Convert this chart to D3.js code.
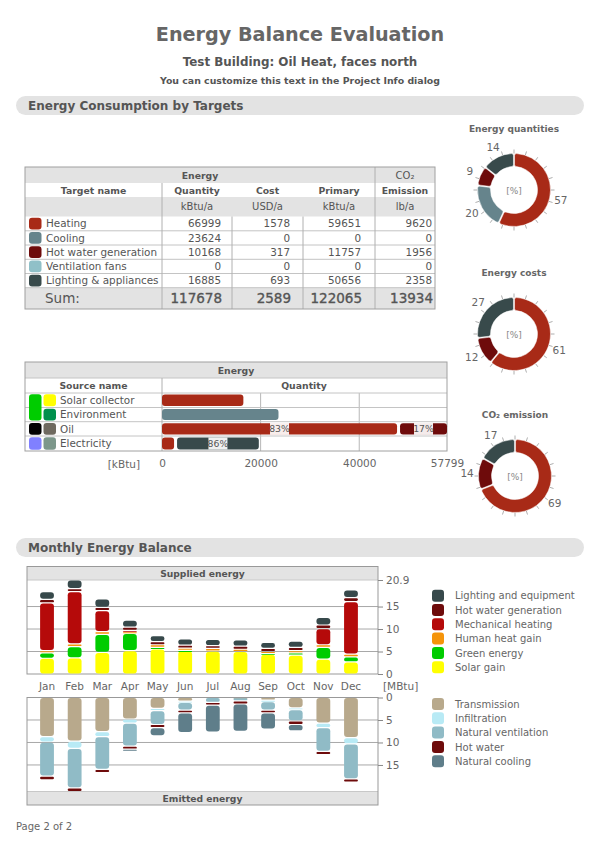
<!DOCTYPE html>
<html>
<head>
<meta charset="utf-8">
<script src="https://cdn.jsdelivr.net/npm/d3@7"></script>
<style>
body { margin: 0; background: #fff; }
svg { display: block; font-family: "DejaVu Sans", sans-serif; }
</style>
</head>
<body>
<svg id="chart" width="600" height="848"></svg>
<script>
// ---- data ----
const targetNames = ["Heating", "Cooling", "Hot water generation", "Ventilation fans", "Lighting & appliances"];
const targetColors = ["#a82a17", "#66848c", "#6e0b0b", "#90c0c8", "#384a4b"];
const quantity = [66999, 23624, 10168, 0, 16885];
const cost = [1578, 0, 317, 0, 693];
const primary = [59651, 0, 11757, 0, 50656];
const emission = [9620, 0, 1956, 0, 2358];
const sums = [117678, 2589, 122065, 13934];
const units = ["kBtu/a", "USD/a", "kBtu/a", "lb/a"];

const sourceNames = ["Solar collector", "Environment", "Oil", "Electricity"];
const sourceHeating = [16500, 0, 47973, 2750];
const sourceCooling = [0, 23624, 0, 0];
const sourceHotWater = [0, 0, 9826, 0];
const sourceLighting = [0, 0, 0, 16885];
const sourceTicks = [0, 20000, 40000, 57799];

const months = ["Jan", "Feb", "Mar", "Apr", "May", "Jun", "Jul", "Aug", "Sep", "Oct", "Nov", "Dec"];
// supplied energy [MBtu], stacked bottom -> top
const solarGain   = [3.5, 3.6, 4.8, 5.2, 5.6, 5.2, 5.1, 5.0, 4.4, 4.2, 3.3, 2.7];
const greenEnergy = [1.2, 2.5, 4.0, 3.8, 0.3, 0.05, 0, 0, 0.2, 0.5, 2.6, 1.1];
const humanHeat   = [0.5, 0.6, 0.6, 0.4, 0.6, 0.5, 0.6, 0.5, 0.4, 0.5, 0.6, 0.6];
const mechHeating = [10.6, 11.6, 4.7, 0.3, 0, 0, 0, 0, 0, 0, 3.6, 11.7];
const hotWaterGen = [0.8, 0.7, 0.7, 0.7, 0.7, 0.65, 0.6, 0.7, 0.7, 0.7, 0.8, 0.9];
const lighting    = [1.7, 1.9, 1.9, 1.6, 1.3, 1.4, 1.4, 1.4, 1.3, 1.4, 1.7, 1.7];
// emitted energy [MBtu], stacked from 0 downwards
const transmission = [8.7, 9.7, 7.6, 4.8, 2.4, 0.8, 0, 0.05, 0.6, 2.3, 5.7, 8.9];
const infiltration = [1.2, 1.6, 1.1, 0.9, 0.5, 0.3, 0, 0, 0.3, 0.4, 1.0, 1.4];
const natVent      = [7.6, 8.8, 7.3, 5.1, 3.1, 1.7, 1.1, 0.7, 1.9, 2.5, 5.3, 7.8];
const hotWater     = [0.8, 0.8, 0.7, 0.7, 0.7, 0.6, 0.6, 0.7, 0.6, 0.8, 0.7, 0.7];
const natCooling   = [0, 0, 0, 0.4, 1.8, 4.4, 6.0, 6.1, 3.6, 1.4, 0, 0];
const monthTicks = [0, 5, 10, 15, 20.9];

const supKeys = ["Solar gain", "Green energy", "Human heat gain", "Mechanical heating", "Hot water generation", "Lighting and equipment"];
const supColors = ["#ffff00", "#00cc00", "#f5940a", "#b50a0a", "#6e0b0b", "#37494b"];
const emKeys = ["Transmission", "Infiltration", "Natural ventilation", "Hot water", "Natural cooling"];
const emColors = ["#b8a98c", "#b8eaf5", "#90bbc6", "#6e0b0b", "#5f7e8a"];

const svg = d3.select("#chart");
const ink = "#555";
const headGray = "#e3e3e3";

// ---- page header ----
svg.append("text").attr("x", 300).attr("y", 41).attr("text-anchor", "middle")
    .attr("font-size", 19.2).attr("font-weight", "bold").attr("fill", "#666")
    .text("Energy Balance Evaluation");
svg.append("text").attr("x", 300).attr("y", 66).attr("text-anchor", "middle")
    .attr("font-size", 11.9).attr("font-weight", "bold").attr("fill", ink)
    .text("Test Building: Oil Heat, faces north");
svg.append("text").attr("x", 300).attr("y", 84).attr("text-anchor", "middle")
    .attr("font-size", 9.4).attr("font-weight", "bold").attr("fill", ink)
    .text("You can customize this text in the Project Info dialog");

function pill(y, label) {
    svg.append("rect").attr("x", 16).attr("y", y).attr("width", 568).attr("height", 19)
        .attr("rx", 9.5).attr("fill", headGray);
    svg.append("text").attr("x", 28).attr("y", y + 14).attr("font-size", 12)
        .attr("font-weight", "bold").attr("fill", ink).text(label);
}
pill(96, "Energy Consumption by Targets");
pill(538, "Monthly Energy Balance");

function label(g, x, y, s, opts) {
    opts = opts || {};
    return g.append("text").attr("x", x).attr("y", y)
        .attr("text-anchor", opts.anchor || "start")
        .attr("font-size", opts.size || 10.4)
        .attr("font-weight", opts.bold ? "bold" : "normal")
        .attr("fill", opts.fill || ink)
        .text(s);
}

// ---- targets table ----
const cx1 = [25, 162, 232, 303, 375, 435];
const ry1 = [167, 183, 197, 216.5, 230.8, 245, 259.3, 273.5, 287.7, 309];
const t1 = svg.append("g");
t1.append("rect").attr("x", 25).attr("y", ry1[0]).attr("width", 410).attr("height", ry1[1] - ry1[0]).attr("fill", headGray);
t1.append("rect").attr("x", 25).attr("y", ry1[2]).attr("width", 410).attr("height", ry1[3] - ry1[2]).attr("fill", headGray);
t1.append("rect").attr("x", 25).attr("y", ry1[8]).attr("width", 410).attr("height", ry1[9] - ry1[8]).attr("fill", headGray);
for (let i = 4; i <= 8; i++) {
    t1.append("line").attr("x1", 25).attr("x2", 435).attr("y1", ry1[i]).attr("y2", ry1[i]).attr("stroke", "#c4c4c4");
}
[[162, ry1[1]], [232, ry1[3]], [303, ry1[3]], [375, ry1[0]]].forEach(([x, y0]) => {
    t1.append("line").attr("x1", x).attr("x2", x).attr("y1", y0).attr("y2", ry1[9]).attr("stroke", "#b0b0b0");
});
t1.append("rect").attr("x", 25).attr("y", ry1[0]).attr("width", 410).attr("height", ry1[9] - ry1[0])
    .attr("fill", "none").attr("stroke", "#a0a0a0");

label(t1, 200, 179, "Energy", { anchor: "middle", bold: true, size: 9.3 });
label(t1, 405, 179, "CO₂", { anchor: "middle", bold: false, size: 10 });
const heads = ["Target name", "Quantity", "Cost", "Primary", "Emission"];
heads.forEach((h, i) => label(t1, (cx1[i] + cx1[i + 1]) / 2, 194, h, { anchor: "middle", bold: true, size: 9.3 }));
units.forEach((u, i) => label(t1, (cx1[i + 1] + cx1[i + 2]) / 2, 210, u, { anchor: "middle", size: 10 }));

const pads = [11, 13, 14, 3];
const cols = [quantity, cost, primary, emission];
targetNames.forEach((name, i) => {
    const y0 = ry1[3 + i], y1 = ry1[4 + i];
    t1.append("rect").attr("x", 29).attr("y", y0 + 1.3).attr("width", 12.5).attr("height", y1 - y0 - 2.6)
        .attr("rx", 3).attr("fill", targetColors[i]);
    const by = (y0 + y1) / 2 + 3.8;
    label(t1, 46, by, name);
    cols.forEach((c, j) => label(t1, cx1[j + 2] - pads[j], by, c[i], { anchor: "end" }));
});
label(t1, 45, 303, "Sum:", { size: 13.5 });
sums.forEach((s, j) => label(t1, cx1[j + 2] - pads[j] + 1, 303, s, { anchor: "end", size: 13.5 })
    .attr("stroke", ink).attr("stroke-width", 0.35));

// ---- sources table ----
const ry2 = [362, 378, 393, 407.5, 421.7, 436, 451];
const t2 = svg.append("g");
const xs = d3.scaleLinear().domain([0, 57799]).range([162, 447]);
t2.append("rect").attr("x", 25).attr("y", ry2[0]).attr("width", 422).attr("height", ry2[1] - ry2[0]).attr("fill", headGray);
[20000, 40000].forEach(v => t2.append("line").attr("x1", xs(v)).attr("x2", xs(v))
    .attr("y1", ry2[2]).attr("y2", ry2[6]).attr("stroke", "#b8b8b8"));
for (let i = 1; i <= 5; i++) {
    t2.append("line").attr("x1", 25).attr("x2", 447).attr("y1", ry2[i]).attr("y2", ry2[i]).attr("stroke", "#c4c4c4");
}
t2.append("line").attr("x1", 162).attr("x2", 162).attr("y1", ry2[1]).attr("y2", ry2[6]).attr("stroke", "#b0b0b0");
t2.append("rect").attr("x", 25).attr("y", ry2[0]).attr("width", 422).attr("height", ry2[6] - ry2[0])
    .attr("fill", "none").attr("stroke", "#a0a0a0");
label(t2, 236, 374, "Energy", { anchor: "middle", bold: true, size: 9.3 });
label(t2, 93.5, 389, "Source name", { anchor: "middle", bold: true, size: 9.3 });
label(t2, 304, 389, "Quantity", { anchor: "middle", bold: true, size: 9.3 });

const leftSw = ["#00cc00", null, "#000000", "#8080ff"];
const rightSw = ["#ffff00", "#00904c", "#6f6a60", "#7c978b"];
sourceNames.forEach((name, i) => {
    const y0 = ry2[2 + i], y1 = ry2[3 + i];
    if (i === 0) {
        t2.append("rect").attr("x", 29).attr("y", y0 + 1.3).attr("width", 12.5).attr("height", ry2[4] - y0 - 2.6)
            .attr("rx", 3).attr("fill", leftSw[0]);
    } else if (leftSw[i]) {
        t2.append("rect").attr("x", 29).attr("y", y0 + 1.3).attr("width", 12.5).attr("height", y1 - y0 - 2.6)
            .attr("rx", 3).attr("fill", leftSw[i]);
    }
    t2.append("rect").attr("x", 43.5).attr("y", y0 + 1.3).attr("width", 12.5).attr("height", y1 - y0 - 2.6)
        .attr("rx", 3).attr("fill", rightSw[i]);
    label(t2, 60, (y0 + y1) / 2 + 3.8, name);

    const parts = [
        { v: sourceHeating[i], c: targetColors[0] },
        { v: sourceCooling[i], c: targetColors[1] },
        { v: sourceHotWater[i], c: targetColors[2] },
        { v: sourceLighting[i], c: targetColors[4] }
    ].filter(p => p.v > 0);
    const total = d3.sum(parts, p => p.v);
    let acc = 0;
    parts.forEach(p => {
        const xa = xs(acc) + (acc > 0 ? 1.5 : 0), xb = xs(acc + p.v) - (acc + p.v < total ? 1.5 : 0);
        t2.append("rect").attr("x", xa).attr("y", y0 + 1.6).attr("width", xb - xa).attr("height", y1 - y0 - 3.2)
            .attr("rx", 3).attr("fill", p.c);
        if (parts.length > 1 && xb - xa > 30) {
            const pct = Math.round(p.v / total * 100) + "%";
            const mx = (xa + xb) / 2;
            t2.append("rect").attr("x", mx - 9.5).attr("y", (y0 + y1) / 2 - 6).attr("width", 19).attr("height", 12)
                .attr("fill", "#fff").attr("opacity", 0.92);
            label(t2, mx, (y0 + y1) / 2 + 3.5, pct, { anchor: "middle", size: 9.3 });
        }
        acc += p.v;
    });
});
const ax2 = t2.append("g").attr("transform", "translate(0,457)")
    .call(d3.axisBottom(xs).tickValues(sourceTicks).tickSize(0).tickFormat(d3.format("d")));
ax2.select(".domain").remove();
ax2.selectAll("text").attr("font-size", 10.5).attr("fill", "#666").attr("font-family", "DejaVu Sans");
label(t2, 140, 468, "[kBtu]", { anchor: "end", size: 10.5, fill: "#666" });

// ---- donuts ----
const pie = d3.pie().sort(null).value(d => d);
const arc = d3.arc().innerRadius(23.5).outerRadius(36.5).cornerRadius(2).padAngle(0.025);
function donut(cx, cy, title, values) {
    const g = svg.append("g").attr("transform", `translate(${cx},${cy})`);
    svg.append("text").attr("x", cx).attr("y", cy - 58).attr("text-anchor", "middle")
        .attr("font-size", 9).attr("font-weight", "bold").attr("fill", "#666").text(title);
    d3.range(20).forEach(k => {
        const a = k / 20 * 2 * Math.PI;
        g.append("line").attr("x1", 36.5 * Math.sin(a)).attr("y1", -36.5 * Math.cos(a))
            .attr("x2", 40.5 * Math.sin(a)).attr("y2", -40.5 * Math.cos(a))
            .attr("stroke", "#999").attr("stroke-width", 0.8);
    });
    const total = d3.sum(values);
    const arcs = pie(values);
    arcs.forEach((a, i) => {
        if (a.data <= 0) return;
        g.append("path").attr("d", arc(a)).attr("fill", targetColors[i]).attr("stroke", "#fff").attr("stroke-width", 0.5);
        const m = (a.startAngle + a.endAngle) / 2;
        g.append("text").attr("x", 48 * Math.sin(m)).attr("y", -48 * Math.cos(m) + 4)
            .attr("text-anchor", "middle").attr("font-size", 10.5).attr("fill", "#666")
            .text(Math.round(a.data / total * 100));
    });
    g.append("text").attr("x", 0).attr("y", 3.5).attr("text-anchor", "middle")
        .attr("font-size", 9).attr("fill", "#888").text("[%]");
}
donut(514, 190, "Energy quantities", quantity);
donut(514, 334, "Energy costs", cost);
donut(515, 476, "CO₂ emission", emission);

// ---- monthly balance ----
const x = d3.scaleBand().domain(months).range([33.2, 364.8]).paddingInner(0.5).paddingOuter(0.25);
const ySup = d3.scaleLinear().domain([0, 20.9]).range([674, 580]);
const yEm = d3.scaleLinear().domain([0, 20.9]).range([697.5, 791.5]);

const supRows = months.map((m, i) => ({
    month: m, "Solar gain": solarGain[i], "Green energy": greenEnergy[i], "Human heat gain": humanHeat[i],
    "Mechanical heating": mechHeating[i], "Hot water generation": hotWaterGen[i], "Lighting and equipment": lighting[i]
}));
const emRows = months.map((m, i) => ({
    month: m, "Transmission": transmission[i], "Infiltration": infiltration[i], "Natural ventilation": natVent[i],
    "Hot water": hotWater[i], "Natural cooling": natCooling[i]
}));

const mg = svg.append("g");
// boxes
mg.append("rect").attr("x", 27).attr("y", 566.5).attr("width", 351).attr("height", 13.5).attr("fill", headGray);
mg.append("rect").attr("x", 27).attr("y", 791.5).attr("width", 351).attr("height", 13.5).attr("fill", headGray);
[5, 10, 15].forEach(v => {
    mg.append("line").attr("x1", 27).attr("x2", 378).attr("y1", ySup(v)).attr("y2", ySup(v)).attr("stroke", "#a8a8a8");
    mg.append("line").attr("x1", 27).attr("x2", 378).attr("y1", yEm(v)).attr("y2", yEm(v)).attr("stroke", "#a8a8a8");
});
mg.append("line").attr("x1", 27).attr("x2", 378).attr("y1", 580).attr("y2", 580).attr("stroke", "#c8c8c8");
mg.append("line").attr("x1", 27).attr("x2", 378).attr("y1", 791.5).attr("y2", 791.5).attr("stroke", "#c8c8c8");
mg.append("rect").attr("x", 27).attr("y", 566.5).attr("width", 351).attr("height", 107.5)
    .attr("fill", "none").attr("stroke", "#999");
mg.append("rect").attr("x", 27).attr("y", 697.5).attr("width", 351).attr("height", 107.5)
    .attr("fill", "none").attr("stroke", "#999");
label(mg, 202.5, 577, "Supplied energy", { anchor: "middle", bold: true, size: 9.2 });
label(mg, 202.5, 802, "Emitted energy", { anchor: "middle", bold: true, size: 9.2 });

function drawStack(series, colors, yScale) {
    series.forEach((s, k) => {
        s.forEach(d => {
            if (d[1] - d[0] <= 0) return;
            const ya = yScale(d[0]), yb = yScale(d[1]);
            const top = Math.min(ya, yb) + 0.6;
            const h = Math.max(0.9, Math.abs(ya - yb) - 1.2);
            mg.append("rect").attr("x", x(d.data.month)).attr("y", top)
                .attr("width", x.bandwidth()).attr("height", h)
                .attr("rx", Math.min(3, h / 2)).attr("fill", colors[k]);
        });
    });
}
drawStack(d3.stack().keys(supKeys)(supRows), supColors, ySup);
drawStack(d3.stack().keys(emKeys)(emRows), emColors, yEm);

function rightAxis(scale, ticks) {
    const a = mg.append("g").attr("transform", "translate(378,0)")
        .call(d3.axisRight(scale).tickValues(ticks).tickSize(5).tickPadding(3).tickFormat(d => d));
    a.select(".domain").remove();
    a.selectAll("line").attr("stroke", "#888");
    a.selectAll("text").attr("font-size", 10.5).attr("fill", "#666").attr("font-family", "DejaVu Sans");
}
rightAxis(ySup, monthTicks);
rightAxis(yEm, monthTicks.slice(0, 4));

months.forEach(m => label(mg, x(m) + x.bandwidth() / 2, 690, m, { anchor: "middle", size: 10.5, fill: "#666" }));
label(mg, 383, 690, "[MBtu]", { size: 10.5, fill: "#666" });

// ---- legends ----
function legend(y0, names, colors) {
    names.forEach((n, i) => {
        const y = y0 + i * 14.3;
        svg.append("rect").attr("x", 432).attr("y", y - 6).attr("width", 12).attr("height", 12)
            .attr("rx", 3).attr("fill", colors[i]);
        label(svg, 455, y + 3.6, n, { size: 10, fill: "#666" });
    });
}
legend(595.7, supKeys.slice().reverse(), supColors.slice().reverse());
legend(704, emKeys, emColors);

label(svg, 16, 830, "Page 2 of 2", { size: 10, fill: "#666" });
</script>
</body>
</html>
